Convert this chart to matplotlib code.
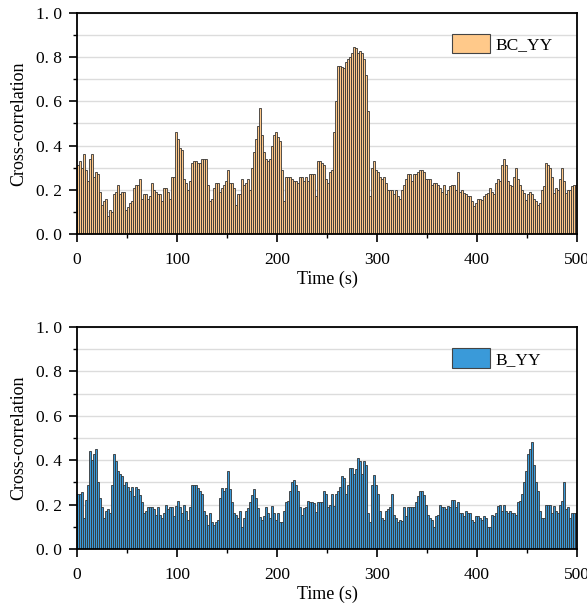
"""
Cross-correlation over time for BC_YY and B_YY, two stacked bar panels.
"""

import matplotlib
matplotlib.use("Agg")
import matplotlib.pyplot as plt
from matplotlib.ticker import FuncFormatter, MultipleLocator
import numpy as np

# one bar every 2 s, 0..500 s
bin_width = 2
t_start = np.arange(0, 500, bin_width)

bc_yy = [
    0.31, 0.33, 0.30, 0.36, 0.29, 0.24, 0.34, 0.36, 0.26, 0.28,
    0.27, 0.19, 0.13, 0.15, 0.16, 0.08, 0.11, 0.10, 0.18, 0.19,
    0.22, 0.18, 0.19, 0.19, 0.11, 0.12, 0.14, 0.15, 0.21, 0.22,
    0.22, 0.25, 0.16, 0.18, 0.18, 0.16, 0.17, 0.23, 0.20, 0.19,
    0.18, 0.18, 0.15, 0.21, 0.21, 0.19, 0.16, 0.26, 0.26,
    0.46, 0.43, 0.39, 0.38, 0.25, 0.23, 0.20, 0.24, 0.32, 0.33,
    0.33, 0.32, 0.32, 0.34, 0.34, 0.34, 0.22, 0.15, 0.16, 0.21,
    0.23, 0.23, 0.19, 0.21, 0.22, 0.24, 0.29, 0.23, 0.23, 0.21,
    0.13, 0.18, 0.18, 0.25, 0.22, 0.23, 0.25, 0.20, 0.30, 0.37,
    0.43, 0.49, 0.57, 0.45, 0.37, 0.34, 0.33, 0.34, 0.40, 0.45,
    0.46, 0.44, 0.42, 0.29, 0.15, 0.26, 0.26, 0.26, 0.25, 0.24,
    0.24, 0.23, 0.26, 0.26, 0.24, 0.26, 0.24, 0.27, 0.27, 0.27,
    0.17, 0.33, 0.33, 0.32, 0.31, 0.25, 0.23, 0.28, 0.29, 0.46,
    0.60, 0.76, 0.76, 0.755, 0.75, 0.78, 0.79, 0.80, 0.82, 0.845,
    0.84, 0.82, 0.83, 0.82, 0.79, 0.72, 0.555, 0.17, 0.30, 0.33,
    0.29, 0.28, 0.26, 0.25, 0.26, 0.23, 0.20, 0.20, 0.20, 0.18,
    0.20, 0.17, 0.16, 0.20, 0.22, 0.25, 0.27, 0.27, 0.24, 0.27,
    0.27, 0.28, 0.29, 0.29, 0.28, 0.25, 0.25, 0.25, 0.22, 0.23,
    0.23,
    0.22, 0.21, 0.19, 0.22, 0.18, 0.20, 0.215, 0.22, 0.22, 0.20,
    0.28, 0.19, 0.20, 0.185, 0.18, 0.17, 0.17, 0.15, 0.125, 0.14,
    0.16, 0.16, 0.155, 0.17, 0.18, 0.185, 0.21, 0.19, 0.18, 0.23,
    0.25, 0.24, 0.31, 0.34, 0.31, 0.24, 0.22, 0.215, 0.26, 0.30,
    0.25, 0.22, 0.20, 0.185, 0.155, 0.18, 0.19, 0.18, 0.16, 0.15,
    0.13, 0.14, 0.20, 0.215, 0.32, 0.31, 0.30, 0.26, 0.185, 0.21,
    0.20, 0.25, 0.30, 0.24, 0.185, 0.20, 0.20, 0.215, 0.22, 0.22,
]

b_yy = [
    0.25, 0.25, 0.255, 0.14, 0.22, 0.29, 0.44, 0.40, 0.43, 0.45,
    0.30, 0.23, 0.19, 0.14, 0.17, 0.18, 0.16, 0.29, 0.43, 0.395,
    0.35, 0.34, 0.33, 0.29, 0.30, 0.28, 0.26, 0.28, 0.24, 0.28,
    0.27, 0.245, 0.21, 0.16, 0.17, 0.19, 0.19, 0.19, 0.18, 0.155,
    0.19, 0.155, 0.14, 0.16, 0.20, 0.18, 0.19, 0.19, 0.15, 0.195,
    0.215, 0.19, 0.16, 0.20, 0.17, 0.13, 0.19, 0.29,
    0.29, 0.29, 0.275, 0.26, 0.25, 0.17, 0.155, 0.11, 0.16, 0.12,
    0.11, 0.12, 0.13, 0.23, 0.275, 0.26, 0.275, 0.35, 0.27, 0.21,
    0.16, 0.155, 0.14, 0.17, 0.10, 0.14, 0.17, 0.185, 0.21, 0.245,
    0.27, 0.23, 0.185, 0.145, 0.13, 0.15, 0.19, 0.16, 0.14, 0.195,
    0.16, 0.13, 0.16, 0.12, 0.12, 0.17, 0.21, 0.215, 0.26, 0.30,
    0.31, 0.29, 0.26, 0.19, 0.155, 0.185, 0.19, 0.215, 0.21, 0.21,
    0.205,
    0.165, 0.21, 0.21, 0.21, 0.26, 0.25, 0.19, 0.20, 0.25, 0.195,
    0.25, 0.26, 0.28, 0.33, 0.32, 0.25, 0.29, 0.365, 0.365, 0.34,
    0.36, 0.41, 0.395, 0.34, 0.395, 0.38, 0.16, 0.12, 0.29, 0.335,
    0.29, 0.25, 0.17, 0.14, 0.13, 0.17, 0.18, 0.19, 0.25, 0.155,
    0.14, 0.12, 0.13, 0.125, 0.19, 0.15, 0.19, 0.19, 0.19, 0.19,
    0.21, 0.24, 0.26, 0.26, 0.245, 0.20, 0.155, 0.14, 0.13, 0.10,
    0.15,
    0.155, 0.20, 0.19, 0.19, 0.18, 0.195, 0.19, 0.22, 0.22, 0.19,
    0.21, 0.16, 0.16, 0.15, 0.17, 0.16, 0.16, 0.13, 0.12, 0.15,
    0.15, 0.14, 0.13, 0.15, 0.14, 0.10, 0.10, 0.155, 0.15, 0.16,
    0.195, 0.20, 0.17, 0.20, 0.17, 0.16, 0.17, 0.16, 0.16, 0.155,
    0.21, 0.215, 0.25, 0.30, 0.35, 0.43, 0.45, 0.48, 0.38, 0.30,
    0.26, 0.17, 0.14, 0.14, 0.20, 0.20, 0.20, 0.16, 0.195, 0.17,
    0.16, 0.20, 0.215, 0.30, 0.18, 0.19, 0.14, 0.16, 0.16, 0.16,
]

series_names = ["BC_YY", "B_YY"]
series_colors = ["#FFC98A", "#3A9AD9"]
edge_color = "#353535"

plt.rcParams["font.family"] = ["Liberation Serif", "DejaVu Serif"]

W, H = 587, 607  # output size in pixels
# axes 500 px wide so every 2 s bar is exactly 2 px (no moire)
AX_LEFT, AX_W = 77, 500


def tick_fmt(v, _):
    # the original prints "0. 2" with a gap after the point
    return f"{v:.1f}".replace(".", ". ")


def draw_panel(ax, values, name, color):
    ax.bar(t_start, values, width=bin_width, align="edge", color=color,
           edgecolor=edge_color, linewidth=0.6, label=name, zorder=2)
    ax.set_xlim(0, 500)
    ax.set_ylim(0, 1.0)
    ax.xaxis.set_major_locator(MultipleLocator(100))
    ax.xaxis.set_minor_locator(MultipleLocator(50))
    ax.yaxis.set_major_locator(MultipleLocator(0.2))
    ax.yaxis.set_minor_locator(MultipleLocator(0.1))
    ax.yaxis.set_major_formatter(FuncFormatter(tick_fmt))
    ax.yaxis.grid(True, which="both", color="#dcdcdc", linewidth=1.0, zorder=0)
    ax.set_axisbelow(True)
    ax.tick_params(which="major", direction="out", length=6, width=1.2,
                   labelsize=12.5, colors="black", pad=5)
    ax.tick_params(axis="x", which="major", pad=7)
    ax.tick_params(which="minor", direction="out", length=3, width=1.0)
    for s in ax.spines.values():
        s.set_linewidth(1.3)
        s.set_zorder(5)
    ax.set_xlabel("Time (s)", fontsize=13, labelpad=2)
    ax.set_ylabel("Cross-correlation", fontsize=13, labelpad=6)
    leg = ax.legend(loc="upper left", bbox_to_anchor=(0.75, 0.905),
                    frameon=False, fontsize=12.5, handlelength=2.2,
                    handleheight=1.35, handletextpad=0.3,
                    borderpad=0, borderaxespad=0)
    for h in leg.legend_handles:
        h.set_edgecolor("#444444")
        h.set_linewidth(0.8)


fig = plt.figure(figsize=(W / 100, H / 100), dpi=100)
ax_top = fig.add_axes([AX_LEFT / W, 373 / H, AX_W / W, 221 / H])
ax_bot = fig.add_axes([AX_LEFT / W, 58 / H, AX_W / W, 222 / H])

for ax, vals, name, col in zip([ax_top, ax_bot], [bc_yy, b_yy],
                               series_names, series_colors):
    draw_panel(ax, vals, name, col)

fig.savefig("out.png", dpi=100)
